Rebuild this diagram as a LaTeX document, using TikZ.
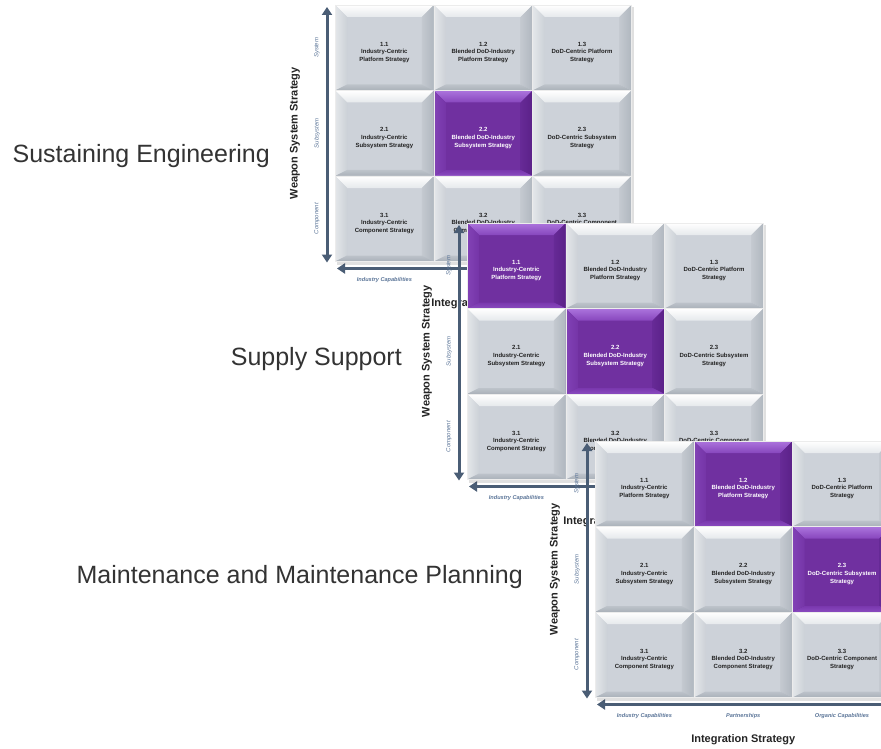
\documentclass[tikz,border=0pt]{standalone}
\usepackage{fontspec}
\setmainfont{Liberation Sans}
\usetikzlibrary{arrows.meta,calc}

% gray tile colours
\definecolor{gc}{HTML}{CDD2D9}
\definecolor{gtA}{HTML}{FFFFFF}
\definecolor{gtB}{HTML}{E6E9EC}
\definecolor{glA}{HTML}{E4E7EA}
\definecolor{glB}{HTML}{CCD1D7}
\definecolor{grA}{HTML}{C4C9D0}
\definecolor{grB}{HTML}{B0B7BF}
\definecolor{gbA}{HTML}{BDC3CA}
\definecolor{gbB}{HTML}{A9B0B8}
\definecolor{gtxt}{HTML}{222222}
% purple tile colours
\definecolor{pc}{HTML}{7030A0}
\definecolor{ptA}{HTML}{AC74DD}
\definecolor{ptB}{HTML}{8746BD}
\definecolor{plA}{HTML}{8242B6}
\definecolor{plB}{HTML}{7535A7}
\definecolor{prA}{HTML}{662A96}
\definecolor{prB}{HTML}{5A2188}
\definecolor{pbA}{HTML}{7A38AE}
\definecolor{pbB}{HTML}{8A4BC0}
\definecolor{ptxt}{HTML}{FFFFFF}
% others
\definecolor{axisc}{HTML}{4A5D75}
\definecolor{labc}{HTML}{5B7598}
\definecolor{titlec}{HTML}{333333}

\tikzset{
  x=1pt, y=-1pt,
  tiletext/.style={inner sep=0pt, align=center, font=\bfseries\fontsize{6}{7.7}\selectfont},
  axisline/.style={draw=axisc, line width=3pt, {Triangle[length=8pt,width=10pt]}-{Triangle[length=8pt,width=10pt]}},
  rowlab/.style={inner sep=0pt, rotate=90, text=labc, font=\itshape\fontsize{6}{7}\selectfont},
  collab/.style={inner sep=0pt, text=labc, font=\bfseries\itshape\fontsize{5.6}{7}\selectfont},
  axlab/.style={inner sep=0pt, text=titlec!70!black, font=\bfseries\fontsize{11}{13}\selectfont},
  titlelab/.style={inner sep=0pt, text=titlec, font=\fontsize{25}{30}\selectfont},
  gridshadow/.style={fill=black, opacity=0.12},
}

\def\tw{98.8}
\def\th{85.5}
\def\bs{12}
\def\bt{12}
\def\bb{6}

\newcommand\tile[4]{% #1 col, #2 row, #3 scheme (g/p), #4 text
  \pgfmathsetmacro\tx{\gx+(#1-1)*\tw}
  \pgfmathsetmacro\ty{\gy+(#2-1)*\th}
  \begin{scope}[shift={(\tx,\ty)}]
    \fill[#3c] (0,0) rectangle (\tw,\th);
    \shade[top color=#3tA, bottom color=#3tB] (0,0) -- (\tw,0) -- ({\tw-\bs},\bt) -- (\bs,\bt) -- cycle;
    \shade[left color=#3lA, right color=#3lB] (0,0) -- (\bs,\bt) -- (\bs,{\th-\bb}) -- (0,\th) -- cycle;
    \shade[left color=#3rA, right color=#3rB] (\tw,0) -- ({\tw-\bs},\bt) -- ({\tw-\bs},{\th-\bb}) -- (\tw,\th) -- cycle;
    \shade[top color=#3bA, bottom color=#3bB] (0,\th) -- (\bs,{\th-\bb}) -- ({\tw-\bs},{\th-\bb}) -- (\tw,\th) -- cycle;
    \draw[white!85!gray, line width=0.5pt] (0,0) rectangle (\tw,\th);
    \node[tiletext, text=#3txt] (\gid-t#2#1) at ({\tw/2},47.5) {#4};
  \end{scope}
}

\newcommand\tileset[9]{%
  \fill[gridshadow] ({\gx+2},{\gy+3*\th}) rectangle ({\gx+3*\tw+3},{\gy+3*\th+3});
  \fill[gridshadow] ({\gx+3*\tw},{\gy+2}) rectangle ({\gx+3*\tw+3},{\gy+3*\th});
  \tile{1}{1}{#1}{1.1\\Industry-Centric\\Platform Strategy}
  \tile{2}{1}{#2}{1.2\\Blended DoD-Industry\\Platform Strategy}
  \tile{3}{1}{#3}{1.3\\DoD-Centric Platform\\Strategy}
  \tile{1}{2}{#4}{2.1\\Industry-Centric\\Subsystem Strategy}
  \tile{2}{2}{#5}{2.2\\Blended DoD-Industry\\Subsystem Strategy}
  \tile{3}{2}{#6}{2.3\\DoD-Centric Subsystem\\Strategy}
  \tile{1}{3}{#7}{3.1\\Industry-Centric\\Component Strategy}
  \tile{2}{3}{#8}{3.2\\Blended DoD-Industry\\Component Strategy}
  \tile{3}{3}{#9}{3.3\\DoD-Centric Component\\Strategy}
}

% #1 = 1 if the Partnerships / Organic Capabilities labels are visible
\newcommand\gridframe[1]{%
  \coordinate (\gid-vt) at ({\gx-8},{\gy+2});
  \coordinate (\gid-vb) at ({\gx-8},{\gy+3*\th+1});
  \coordinate (\gid-hl) at ({\gx+2},{\gy+3*\th+7});
  \coordinate (\gid-hr) at ({\gx+3*\tw+2},{\gy+3*\th+7});
  \node[rowlab] (\gid-r1) at ({\gx-18},{\gy+0.5*\th}) {System};
  \node[rowlab] (\gid-r2) at ({\gx-18},{\gy+1.5*\th}) {Subsystem};
  \node[rowlab] (\gid-r3) at ({\gx-18},{\gy+2.5*\th}) {Component};
  \node[collab] (\gid-c1) at ({\gx+0.5*\tw},{\gy+3*\th+19}) {Industry Capabilities};
  \ifnum#1=1
  \node[collab] (\gid-c2) at ({\gx+1.5*\tw},{\gy+3*\th+19}) {Partnerships};
  \node[collab] (\gid-c3) at ({\gx+2.5*\tw},{\gy+3*\th+19}) {Organic Capabilities};
  \fi
  \node[axlab] (\gid-ix) at ({\gx+1.5*\tw},{\gy+3*\th+42}) {Integration Strategy};
  \node[axlab, rotate=90] (\gid-wy) at ({\gx-40},{\gy+1.5*\th}) {Weapon System Strategy};
  \draw[axisline] (\gid-vt) -- (\gid-vb);
  \draw[axisline] (\gid-hl) -- (\gid-hr);
}

\begin{document}
\begin{tikzpicture}
\useasboundingbox (0,0) rectangle (881,749);
\clip (0,0) rectangle (881,749);
\fill[white] (0,0) rectangle (881,749);

% Grid A: Sustaining Engineering
\def\gx{335}\def\gy{5}\def\gid{A}
\node[titlelab, anchor=base east] (titleA) at (270,163) {Sustaining Engineering};
\gridframe{0}
\tileset{g}{g}{g}{g}{p}{g}{g}{g}{g}

% Grid B: Supply Support
\def\gx{467}\def\gy{223}\def\gid{B}
\node[titlelab, anchor=base east] (titleB) at (402,365) {Supply Support};
\gridframe{0}
\tileset{p}{g}{g}{g}{p}{g}{g}{g}{g}

% Grid C: Maintenance and Maintenance Planning
\def\gx{595}\def\gy{441}\def\gid{C}
\node[titlelab, anchor=base east] (titleC) at (523,583) {Maintenance and Maintenance Planning};
\gridframe{1}
\tileset{g}{p}{g}{g}{g}{p}{g}{g}{g}
\end{tikzpicture}
\end{document}
